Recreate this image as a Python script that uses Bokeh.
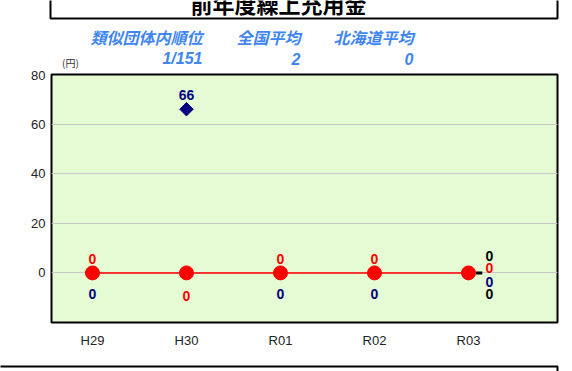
from bokeh.plotting import figure
from bokeh.layouts import column
from bokeh.models import (Range1d, FixedTicker, ColumnDataSource, LabelSet)
from bokeh.core.properties import value
from bokeh.embed import file_html
from bokeh.resources import INLINE

# ---- data ----
years = ["H29", "H30", "R01", "R02", "R03"]
city = [0, 0, 0, 0, 0]                 # 当該団体値 (red)
similar = [0, 66, 0, 0, 0]             # 類似団体内平均値 (navy)
r03_labels = ["0", "0", "0", "0"]      # R03 labels: 全国, 当該, 類似, 北海道
r03_colors = ["black", "red", "#000080", "black"]
title = "前年度繰上充用金"
header_names = ["類似団体内順位", "全国平均", "北海道平均"]
header_values = ["1/151", "2", "0"]
unit = "(円)"
y_ticks = [0, 20, 40, 60, 80]

W = 572
TOP_H, MAIN_H, BOT_H = 70, 280, 21
FL, FR, FT, FB = 51, 557, 74, 325
BLUE = "#3F86F2"


def strip(height):
    f = figure(width=W, height=height, output_backend="svg", toolbar_location=None,
               x_axis_location=None, y_axis_location=None, min_border=0)
    f.outline_line_color = None
    f.grid.grid_line_color = None
    f.background_fill_color = "white"
    f.border_fill_color = "white"
    try:
        f.frame_align = False
        x0, x1 = 0, W
    except Exception:
        x0, x1 = FL, FR
    f.x_range = Range1d(x0, x1)
    f.y_range = Range1d(height, 0)
    return f, x0, x1


# ---------- header figure ----------
t, tx0, tx1 = strip(TOP_H)
t.quad(left=[max(50, tx0 + 1)], right=[min(557, tx1 - 1)], top=[-10], bottom=[18], fill_color=None,
       line_color="black", line_width=2)
t.text(x=[278], y=[18], text=[title], text_font=value("Noto Sans CJK JP"),
       text_font_size="22px", text_font_style="bold", text_color="black",
       text_align="center", text_baseline="bottom")
hx = [202, 300, 413]
t.text(x=hx, y=[36] * 3, text=header_names, text_font=value("Noto Sans CJK JP"),
       text_font_size="16px", text_font_style="bold italic", text_color=BLUE,
       text_align="right", text_baseline="middle")
t.text(x=hx, y=[58] * 3, text=header_values, text_font=value("Liberation Sans"),
       text_font_size="16px", text_font_style="bold italic", text_color=BLUE,
       text_align="right", text_baseline="middle")
t.text(x=[70], y=[62], text=[unit], text_font=value("Noto Sans CJK JP"),
       text_font_size="10px", text_color="#333", text_align="center", text_baseline="middle")

# ---------- main figure ----------
p = figure(width=W, height=MAIN_H, output_backend="svg", toolbar_location=None,
           x_range=Range1d(-0.436, 4.947), y_range=Range1d(-20, 80),
           min_border_left=FL, min_border_right=W - FR,
           min_border_top=FT - TOP_H, min_border_bottom=TOP_H + MAIN_H - FB)
p.background_fill_color = "#E4FBD3"
p.border_fill_color = "white"
p.outline_line_color = "black"
p.outline_line_width = 2
p.xgrid.grid_line_color = None
p.ygrid.grid_line_color = "#c8c8c8"
p.ygrid.ticker = FixedTicker(ticks=y_ticks)

p.yaxis.ticker = FixedTicker(ticks=y_ticks)
p.yaxis.axis_line_color = None
p.yaxis.major_tick_line_color = None
p.yaxis.minor_tick_line_color = None
p.yaxis.major_tick_out = 0
p.yaxis.major_label_text_font = "Liberation Sans"
p.yaxis.major_label_text_font_size = "13px"
p.yaxis.major_label_text_color = "#222"
p.yaxis.major_label_standoff = 6

p.xaxis.ticker = FixedTicker(ticks=list(range(len(years))))
p.xaxis.major_label_overrides = {i: y for i, y in enumerate(years)}
p.xaxis.axis_line_color = None
p.xaxis.major_tick_line_color = None
p.xaxis.minor_tick_line_color = None
p.xaxis.major_tick_out = 0
p.xaxis.major_label_text_font = "Liberation Sans"
p.xaxis.major_label_text_font_size = "13px"
p.xaxis.major_label_text_color = "#222"
p.xaxis.major_label_standoff = 10

xs = list(range(len(years)))

# black dash marker (R03 only)
p.scatter(x=[xs[-1] + 0.11], y=[city[-1]], marker="dash", size=7, line_color="black", line_width=3)

# similar (navy diamonds)
p.scatter(x=xs, y=similar, marker="square", angle=0.7854, size=9.5,
          fill_color="#000080", line_color="#000080")
# city (red line + circles)
p.line(x=xs, y=city, line_color="#ff0000", line_width=1.5)
p.scatter(x=xs, y=city, marker="circle", size=14, fill_color="#ff0000", line_color="#ff0000")

# data labels
n = len(years) - 1
city_off = [(-23 if s > c else 14) for c, s in zip(city[:n], similar[:n])]
sim_off = [(14 if s > c else -21) for c, s in zip(city[:n], similar[:n])]
src_c = ColumnDataSource(dict(x=xs[:n], y=city[:n], t=[str(v) for v in city[:n]], off=city_off))
src_s = ColumnDataSource(dict(x=xs[:n], y=similar[:n], t=[str(v) for v in similar[:n]], off=sim_off))
lab_style = dict(text_font=value("Liberation Sans"), text_font_size="14px", text_font_style="bold",
                 text_align="center", text_baseline="middle")
p.add_layout(LabelSet(x="x", y="y", text="t", y_offset="off", source=src_c, text_color="#ff0000", **lab_style))
p.add_layout(LabelSet(x="x", y="y", text="t", y_offset="off", source=src_s, text_color="#000080", **lab_style))

r03_offs = [17, 5, -9, -21]
src_r = ColumnDataSource(dict(x=[xs[-1]] * 4, y=[city[-1]] * 4, t=r03_labels, off=r03_offs, c=r03_colors))
p.add_layout(LabelSet(x="x", y="y", text="t", y_offset="off", x_offset=21, source=src_r,
                      text_color="c", **lab_style))

# ---------- bottom strip ----------
b, bx0, bx1 = strip(BOT_H)
b.quad(left=[bx0 - 5], right=[min(557, bx1 - 1)], top=[16], bottom=[40], fill_color=None,
       line_color="black", line_width=2)

layout = column(t, p, b, spacing=0)
open("out.html", "w").write(file_html(layout, INLINE))
